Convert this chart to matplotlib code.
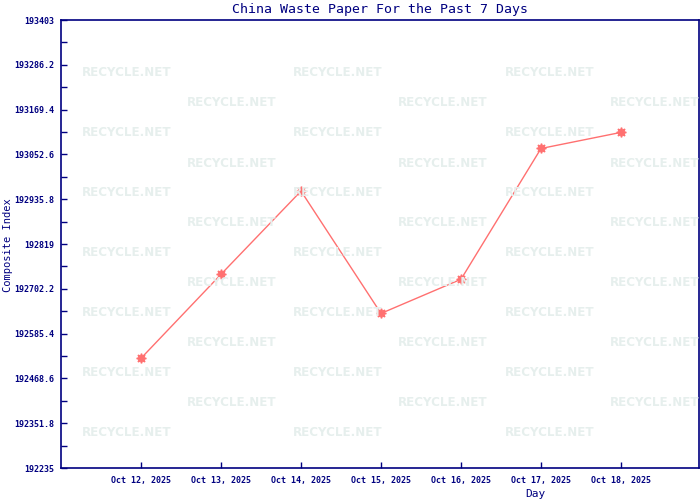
import matplotlib
matplotlib.use("Agg")
import matplotlib.pyplot as plt
from matplotlib.ticker import FixedLocator, FuncFormatter

# data
days = ["Oct 12, 2025", "Oct 13, 2025", "Oct 14, 2025", "Oct 15, 2025",
        "Oct 16, 2025", "Oct 17, 2025", "Oct 18, 2025"]
index_values = [192521, 192740, 192957, 192638, 192727, 193068, 193110]

y_min = 192235
y_max = 193403
y_step = 116.8

navy = "#000080"
line_color = "#ff7070"
mark_color = "#e6efed"


def fmt_tick(v, pos=None):
    s = f"{v:.1f}"
    if s.endswith(".0"):
        s = s[:-2]
    return s


fig = plt.figure(figsize=(7, 5), dpi=100)
W, H = 700, 500

# watermark tiles (pixel positions of the repeated RECYCLE.NET text)
for r in range(13):
    y_px = 73 + r * 30
    starts = [82, 293, 505] if r % 2 == 0 else [187, 398, 610]
    for x_px in starts:
        fig.text(x_px / W, 1 - y_px / H, "RECYCLE.NET", color=mark_color,
                 fontsize=8.6, fontweight="bold", family="DejaVu Sans",
                 va="center", ha="left", zorder=0)

ax = fig.add_axes([61 / W, 1 - 468 / H, 638 / W, 448 / H])
ax.patch.set_alpha(0)

x = list(range(len(days)))
ax.plot(x, index_values, color=line_color, linewidth=1,
        marker=(8, 1, 0), markersize=7, markerfacecolor=line_color,
        markeredgecolor=line_color)

ax.set_xlim(-1, 6.975)
ax.set_ylim(y_min, y_max)

major = [y_min + i * y_step for i in range(11)]
minor = [y_min + (i + 0.5) * y_step for i in range(10)]
ax.yaxis.set_major_locator(FixedLocator(major))
ax.yaxis.set_minor_locator(FixedLocator(minor))
ax.yaxis.set_major_formatter(FuncFormatter(fmt_tick))
ax.set_xticks(x)
ax.set_xticklabels(days)

for side in ["left", "right", "top", "bottom"]:
    ax.spines[side].set_color(navy)
    ax.spines[side].set_linewidth(1.2)

ax.tick_params(axis="both", which="both", direction="in", color=navy,
               labelcolor=navy, width=1)
ax.tick_params(axis="y", which="major", length=4, pad=5, labelsize=6)
ax.tick_params(axis="y", which="minor", length=4)
ax.tick_params(axis="x", which="major", length=4, pad=6, labelsize=6)
for lbl in ax.get_xticklabels() + ax.get_yticklabels():
    lbl.set_family("DejaVu Sans Mono")
    lbl.set_fontweight("bold")

fig.text(380 / W, 1 - 9 / H, "China Waste Paper For the Past 7 Days",
         color=navy, fontsize=9.5, family="DejaVu Sans Mono",
         ha="center", va="center")
fig.text(8 / W, 1 - 245 / H, "Composite Index", color=navy, fontsize=7.5,
         family="DejaVu Sans Mono", rotation=90, ha="center", va="center")
fig.text(535 / W, 1 - 494 / H, "Day", color=navy, fontsize=8,
         family="DejaVu Sans Mono", ha="center", va="center")

fig.savefig("out.png", dpi=100)
plt.close(fig)
